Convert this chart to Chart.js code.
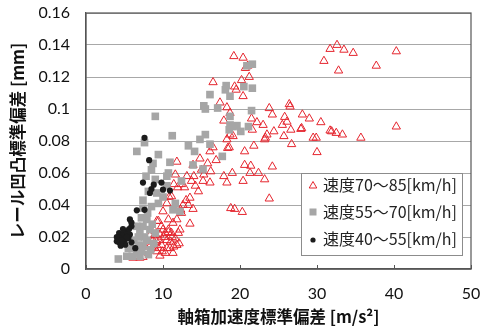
<!DOCTYPE html>
<html lang="ja">
<head>
<meta charset="UTF-8" />
<title>軸箱加速度標準偏差とレール凹凸標準偏差</title>
<script src="https://cdn.jsdelivr.net/npm/chart.js"></script>
<style>
  html, body { margin: 0; padding: 0; background: #fff; }
  #wrap { width: 493px; height: 333px; }
</style>
</head>
<body>
<div id="wrap"><canvas id="chart" width="493" height="333"></canvas></div>
<script>
  const seriesNames = ['速度70～85[km/h]', '速度55～70[km/h]', '速度40～55[km/h]'];
  const xTicks = [0, 10, 20, 30, 40, 50];
  const yTicks = [0, 0.02, 0.04, 0.06, 0.08, 0.1, 0.12, 0.14, 0.16];
  const yTickLabels = ['0', '0.02', '0.04', '0.06', '0.08', '0.1', '0.12', '0.14', '0.16'];

  // [軸箱加速度, レール凹凸]
  const fast = [
    [19.2,0.133],[20.4,0.132],[31.7,0.1375],[32.6,0.140],[33.5,0.137],[34.7,0.135],[30.9,0.130],
    [32.8,0.124],[37.7,0.127],[40.3,0.136],[40.3,0.089],[35.7,0.082],[33.3,0.084],[32.5,0.085],
    [31.7,0.0865],[31.9,0.086],[30.5,0.0917],[29.0,0.094],[28.1,0.0965],[27.9,0.0875],[28.0,0.088],
    [29.5,0.082],[29.9,0.082],[30.0,0.073],[26.4,0.103],[26.5,0.1015],[25.8,0.095],[26.1,0.092],
    [25.5,0.090],[26.6,0.087],[25.7,0.083],[26.7,0.078],[23.8,0.1005],[24.2,0.0965],[24.4,0.086],
    [23.5,0.084],[23.2,0.081],[23.3,0.082],[23.0,0.090],[22.2,0.0917],[21.8,0.077],[24.2,0.064],
    [23.8,0.044],[22.4,0.060],[23.2,0.056],[21.4,0.0645],[20.6,0.065],[21.3,0.060],[20.4,0.055],
    [20.6,0.0735],[20.3,0.0356],[19.3,0.0375],[18.8,0.038],[19.0,0.060],[18.3,0.054],[17.9,0.058],
    [16.5,0.1167],[20.2,0.118],[21.2,0.120],[20.7,0.1256],[21.0,0.127],[19.3,0.114],[19.5,0.112],
    [20.4,0.108],[18.3,0.101],[18.7,0.0975],[17.9,0.0927],[18.7,0.084],[19.1,0.083],[18.4,0.0756],
    [18.6,0.076],[18.3,0.081],[17.4,0.104],[21.5,0.094],[21.6,0.087],[16.5,0.076],[16.1,0.0735],
    [16.9,0.068],[15.8,0.066],[16.2,0.061],[15.3,0.059],[14.8,0.069],[13.9,0.065],[13.7,0.055],
    [14.6,0.0485],[13.5,0.0445],[13.3,0.040],[13.9,0.0375],[13.5,0.0283],[15.2,0.055],[16.1,0.054],
    [13.1,0.058],[12.4,0.053],[11.8,0.067],[11.6,0.059],[11.4,0.053],[11.1,0.0454],[10.5,0.041],
    [10.0,0.036],[9.4,0.030],[12.2,0.0246],[12.6,0.040],[12.3,0.037],[10.7,0.031],[11.9,0.051],
    [12.8,0.051],[14.2,0.052],[15.0,0.062],[14.0,0.058],[13.0,0.043],[11.5,0.038],[10.8,0.045],
    [8.5,0.018],[8.8,0.014],[9.2,0.017],[9.6,0.0215],[9.8,0.015],[10.1,0.020],[10.5,0.013],
    [10.7,0.023],[11.0,0.017],[11.3,0.010],[11.6,0.019],[11.8,0.015],[12.0,0.0225],[12.1,0.016],
    [9.6,0.0083],[10.3,0.010],[9.2,0.011],[8.7,0.018],[10.0,0.0246],[10.5,0.018],[11.1,0.0225],
    [9.4,0.013],[8.4,0.015],[8.1,0.014],[6.1,0.007],[7.0,0.007],[7.4,0.0075],[10.9,0.013],
    [9.6,0.018],[9.0,0.0215],[11.4,0.014],[10.7,0.0246],[9.8,0.0267],[10.3,0.0225],[9.2,0.030],
    [11.3,0.0288],[11.8,0.031],[12.4,0.035],[8.9,0.024],[9.9,0.011],[11.2,0.020],[8.3,0.021]
  ];
  const mid = [
    [16.1,0.109],[15.3,0.102],[15.5,0.100],[17.1,0.1006],[18.2,0.1146],[18.1,0.112],[18.7,0.108],
    [20.5,0.114],[21.6,0.113],[20.9,0.127],[21.6,0.128],[21.5,0.099],[18.7,0.0954],[18.7,0.090],
    [19.6,0.0896],[20.1,0.086],[21.1,0.089],[19.1,0.089],[18.6,0.087],[9.0,0.0954],[11.2,0.0833],
    [7.6,0.079],[6.6,0.0735],[13.3,0.077],[14.1,0.0735],[15.5,0.084],[14.8,0.081],[16.1,0.078],
    [17.7,0.0704],[9.4,0.0715],[8.7,0.066],[10.9,0.0667],[10.7,0.060],[10.5,0.058],[13.9,0.065],
    [15.2,0.0625],[12.4,0.055],[8.5,0.062],[7.8,0.058],[9.0,0.056],[8.1,0.0485],[7.4,0.043],
    [7.4,0.038],[8.5,0.039],[9.2,0.0475],[10.0,0.045],[10.5,0.052],[11.3,0.037],[12.2,0.036],
    [11.6,0.041],[9.4,0.041],[4.2,0.00625],[5.5,0.013],[6.2,0.018],[7.0,0.0225],[7.4,0.0267],
    [7.2,0.032],[6.6,0.010],[7.4,0.014],[8.1,0.009],[7.9,0.018],[7.0,0.008],[6.0,0.008],
    [8.3,0.0246],[8.8,0.016],[5.3,0.008],[9.0,0.0225],[7.9,0.031],[6.6,0.0267],[6.9,0.015],
    [7.6,0.020],[8.4,0.012],[6.4,0.013],[7.2,0.011],[8.6,0.028],[8.0,0.035],[6.8,0.020]
  ];
  const slow = [
    [7.6,0.082],[8.2,0.068],[7.4,0.054],[8.5,0.050],[8.8,0.0527],[8.3,0.0475],[9.8,0.054],
    [10.0,0.0496],[10.9,0.049],[7.6,0.037],[6.6,0.0367],[5.7,0.031],[5.9,0.0267],[6.4,0.013],
    [4.0,0.0173],[4.3,0.0225],[4.6,0.020],[4.9,0.022],[5.3,0.0235],[4.3,0.0167],[5.0,0.0173],
    [5.5,0.0194],[4.8,0.025],[5.7,0.0215],[4.0,0.020],[5.1,0.0152],[4.5,0.0146],[5.6,0.025],
    [5.9,0.029],[5.9,0.0167],[4.7,0.018],[5.3,0.020]
  ];

  const RED = '#e5252e', GRAY = '#a6a6a6', BLACK = '#1c1c1c';
  const tickFont = { family: "Lato, 'Noto Sans CJK JP', sans-serif", size: 16 };
  const titleFont = { family: "'Noto Sans CJK JP', sans-serif", size: 16.5, weight: 'bold' };

  const toPts = arr => arr.map(p => ({ x: p[0], y: p[1] }));

  // frame round the plot, inner tick marks on x, and the legend box
  const decor = {
    id: 'decor',
    afterDatasetsDraw(chart) {
      const ctx = chart.ctx, a = chart.chartArea, xs = chart.scales.x;
      ctx.save();
      ctx.strokeStyle = '#555';
      ctx.lineWidth = 1.2;
      ctx.strokeRect(a.left, a.top, a.right - a.left, a.bottom - a.top);
      ctx.lineWidth = 1;
      xTicks.forEach(v => {
        const px = Math.round(xs.getPixelForValue(v)) + 0.5;
        ctx.beginPath(); ctx.moveTo(px, a.bottom); ctx.lineTo(px, a.bottom - 4); ctx.stroke();
      });

      // legend
      const bw = 161, bh = 82;
      const bx = a.right - 9 - bw, by = a.bottom - 14 - bh;
      ctx.fillStyle = '#fff';
      ctx.fillRect(bx, by, bw, bh);
      ctx.strokeStyle = '#8c8c8c';
      ctx.lineWidth = 1;
      ctx.strokeRect(bx + 0.5, by + 0.5, bw, bh);
      ctx.font = "16px 'Noto Sans CJK JP', sans-serif";
      ctx.textBaseline = 'middle';
      ctx.textAlign = 'left';
      const mx = bx + 12, tx = bx + 22;
      const rows = [by + 12, by + 39, by + 66];
      // triangle
      ctx.strokeStyle = RED; ctx.lineWidth = 1;
      ctx.beginPath();
      ctx.moveTo(mx, rows[0] - 3.5); ctx.lineTo(mx + 3.8, rows[0] + 3); ctx.lineTo(mx - 3.8, rows[0] + 3);
      ctx.closePath(); ctx.stroke();
      // square
      ctx.fillStyle = GRAY;
      ctx.fillRect(mx - 3.5, rows[1] - 3.5, 7, 7);
      // dot
      ctx.fillStyle = BLACK;
      ctx.beginPath(); ctx.arc(mx, rows[2] + 1, 2.6, 0, Math.PI * 2); ctx.fill();
      ctx.fillStyle = '#222';
      seriesNames.forEach((n, i) => ctx.fillText(n, tx, rows[i]));
      ctx.restore();
    }
  };

  new Chart(document.getElementById('chart'), {
    type: 'scatter',
    data: {
      datasets: [
        { label: seriesNames[0], data: toPts(fast), order: 3, pointStyle: 'triangle',
          pointRadius: 4.8, borderColor: RED, backgroundColor: 'rgba(255,255,255,0)', borderWidth: 1 },
        { label: seriesNames[1], data: toPts(mid), order: 2, pointStyle: 'rect',
          pointRadius: 5.4, borderColor: GRAY, backgroundColor: GRAY, borderWidth: 0 },
        { label: seriesNames[2], data: toPts(slow), order: 1, pointStyle: 'circle',
          pointRadius: 3.1, borderColor: BLACK, backgroundColor: BLACK, borderWidth: 0 }
      ]
    },
    options: {
      responsive: false,
      animation: false,
      events: [],
      layout: { padding: { top: 13, right: 22, left: 0, bottom: 0 } },
      plugins: { legend: { display: false }, tooltip: { enabled: false } },
      scales: {
        x: {
          type: 'linear', min: 0, max: 50,
          afterFit: s => { s.height = 64; s.paddingLeft = 0; s.paddingRight = 0; },
          afterBuildTicks: s => { s.ticks = xTicks.map(v => ({ value: v })); },
          grid: { display: false },
          border: { display: true, color: '#555', width: 1.2 },
          ticks: { font: tickFont, color: '#111', padding: 7, maxRotation: 0 },
          title: { display: true, text: '軸箱加速度標準偏差 [m/s²]', font: titleFont, color: '#111',
                   padding: { top: 0, bottom: 6 } }
        },
        y: {
          type: 'linear', min: 0, max: 0.16,
          afterFit: s => { s.width = 86; s.paddingTop = 0; s.paddingBottom = 0; },
          afterBuildTicks: s => { s.ticks = yTicks.map(v => ({ value: v })); },
          grid: { color: '#a8a8a8', lineWidth: 1, drawTicks: false },
          border: { display: true, color: '#555', width: 1.2 },
          ticks: { font: tickFont, color: '#111', padding: 16,
                   callback: (v, i) => yTickLabels[i] },
          title: { display: true, text: 'レール凹凸標準偏差 [mm]', font: titleFont, color: '#111',
                   padding: { top: 8, bottom: 0 } }
        }
      }
    },
    plugins: [decor]
  });
</script>
</body>
</html>
